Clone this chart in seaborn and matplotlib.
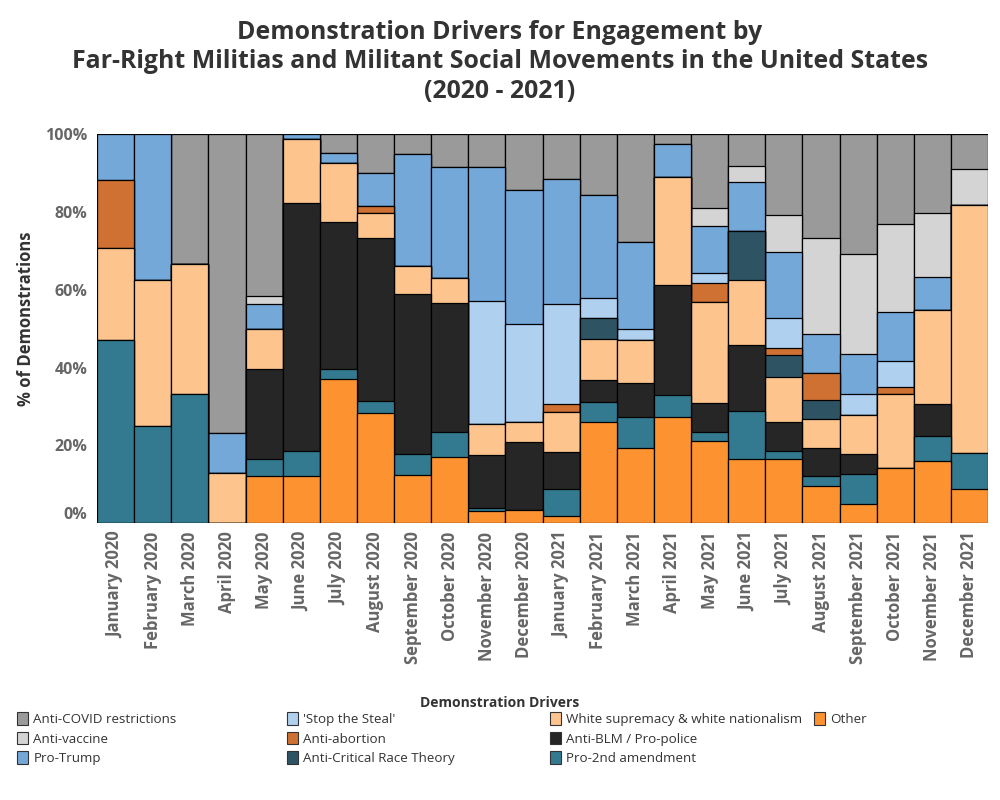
import seaborn as sns
import pandas as pd
import numpy as np
from matplotlib import pyplot as plt
from matplotlib.patches import Patch

sns.set_theme(style="white")
plt.rcParams["font.family"] = ["Open Sans", "DejaVu Sans"]

MONTHS = [f"{m} {y}" for y in (2020, 2021) for m in
          ["January", "February", "March", "April", "May", "June", "July",
           "August", "September", "October", "November", "December"]]

# shares per month (%), stacked bottom -> top in this order
other         = [0, 0, 0, 0, 12.2, 12.2, 37.1, 28.2, 12.3, 17.0, 3.2, 3.5,
                 1.9, 26.1, 19.2, 27.4, 21.2, 16.4, 16.6, 9.5, 4.9, 14.3, 16.0, 8.7]
pro_2nd       = [47.0, 25.0, 33.3, 0, 4.2, 6.4, 2.6, 3.2, 5.4, 6.5, 0.8, 0,
                 6.8, 5.1, 8.2, 5.6, 2.3, 12.5, 2.0, 2.5, 7.7, 0, 6.3, 9.3]
anti_blm      = [0, 0, 0, 0, 23.2, 63.6, 37.8, 41.8, 41.2, 33.1, 13.5, 17.3,
                 9.7, 5.6, 8.5, 28.1, 7.3, 16.8, 7.5, 7.3, 5.1, 0, 8.3, 0]
white_sup     = [23.6, 37.5, 33.3, 12.9, 10.2, 16.5, 15.0, 6.6, 7.2, 6.3, 8.1, 5.3,
                 10.1, 10.4, 11.1, 27.8, 26.1, 16.7, 11.4, 7.4, 10.2, 18.8, 24.3, 63.7]
anti_crt      = [0, 0, 0, 0, 0, 0, 0, 0, 0, 0, 0, 0,
                 0, 5.4, 0, 0, 0, 12.6, 5.6, 4.9, 0, 0, 0, 0]
anti_abortion = [17.7, 0, 0, 0, 0, 0, 0, 1.8, 0, 0, 0, 0,
                 2.0, 0, 0, 0, 4.9, 0, 2.0, 7.1, 0, 2.0, 0, 0]
stop_steal    = [0, 0, 0, 0, 0, 0, 0, 0, 0, 0, 31.4, 25.0,
                 25.7, 5.2, 2.8, 0, 2.4, 0, 7.5, 0, 5.2, 6.5, 0, 0]
pro_trump     = [11.7, 37.5, 0, 10.2, 6.4, 1.3, 2.5, 8.3, 28.7, 28.5, 34.4, 34.4,
                 32.3, 26.4, 22.4, 8.5, 12.1, 12.6, 17.2, 9.8, 10.3, 12.6, 8.3, 0]
anti_vaccine  = [0, 0, 0, 0, 2.2, 0, 0, 0, 0, 0, 0, 0,
                 0, 0, 0, 0, 4.6, 4.1, 9.3, 24.7, 25.7, 22.8, 16.4, 9.2]
anti_covid    = [0, 0, 33.4, 76.9, 41.6, 0, 5.0, 10.1, 5.2, 8.6, 8.6, 14.5,
                 11.5, 15.8, 27.8, 2.6, 19.1, 8.3, 20.9, 26.8, 30.9, 23.0, 20.4, 9.1]

DRIVERS = ["Other", "Pro-2nd amendment", "Anti-BLM / Pro-police",
           "White supremacy & white nationalism", "Anti-Critical Race Theory",
           "Anti-abortion", "'Stop the Steal'", "Pro-Trump", "Anti-vaccine",
           "Anti-COVID restrictions"]
COLORS = ["#fd9231", "#337a91", "#262626", "#fdc48e", "#2e5464",
          "#cf7133", "#b0d0f0", "#74a8d8", "#d4d4d4", "#9a9a9a"]

df = pd.DataFrame(
    [other, pro_2nd, anti_blm, white_sup, anti_crt, anti_abortion,
     stop_steal, pro_trump, anti_vaccine, anti_covid],
    index=DRIVERS, columns=MONTHS).T
df = df.div(df.sum(axis=1), axis=0) * 100
cum = df.cumsum(axis=1)

fig, ax = plt.subplots(figsize=(10, 8), dpi=100)
fig.subplots_adjust(left=0.097, right=0.988, bottom=0.346, top=0.8325)

# draw cumulative totals from the top down so each layer covers the one above
for driver, color in zip(reversed(DRIVERS), reversed(COLORS)):
    sns.barplot(x=cum.index, y=cum[driver].values, color=color, width=1.0,
                edgecolor="black", linewidth=0.9, saturation=1, ax=ax)

ax.set_ylim(0, 100)
ax.set_xlim(-0.5, len(MONTHS) - 0.5)
ax.set_yticks([0, 20, 40, 60, 80, 100])
ax.set_yticklabels([f"{v}%" for v in [0, 20, 40, 60, 80, 100]])
ax.tick_params(axis="y", labelsize=11.5, labelcolor="#666666", length=0, pad=7)
ax.tick_params(axis="x", labelsize=12, labelcolor="#666666", length=0,
               rotation=90, pad=6)
for lbl in ax.get_xticklabels() + ax.get_yticklabels():
    lbl.set_fontweight("bold")
ax.get_yticklabels()[0].set_verticalalignment("bottom")
ax.set_xlabel("")
ax.set_ylabel("% of Demonstrations", fontsize=12, fontweight="bold",
              color="#333333")
ax.yaxis.set_label_coords(-0.07, 0.525)
sns.despine(ax=ax, left=True, bottom=True)

fig.text(0.5, 1 - 62 / 800,
         "Demonstration Drivers for Engagement by\n"
         "Far-Right Militias and Militant Social Movements in the United States\n"
         "(2020 - 2021)",
         ha="center", va="center", fontsize=17.9, fontweight="bold",
         color="#333333", linespacing=1.22)

# legend: four columns, listed top of stack first
legend_order = list(reversed(range(len(DRIVERS))))
columns = [legend_order[0:3], legend_order[3:6], legend_order[6:9], legend_order[9:]]
col_x = [0.012, 0.282, 0.545, 0.809]
for idx, xpos in zip(columns, col_x):
    handles = [Patch(facecolor=COLORS[i], edgecolor="#333333", linewidth=0.8,
                     label=DRIVERS[i]) for i in idx]
    fig.legend(handles=handles, loc="upper left", bbox_to_anchor=(xpos, 0.1165),
               frameon=False, fontsize=9.6, handlelength=0.8, handleheight=1.1,
               handletextpad=0.4, labelspacing=0.42, borderaxespad=0,
               labelcolor="#333333")
fig.text(0.5, 0.121, "Demonstration Drivers", ha="center", va="center",
         fontsize=10, fontweight="bold", color="#333333")

fig.savefig("out.png", dpi=100)
